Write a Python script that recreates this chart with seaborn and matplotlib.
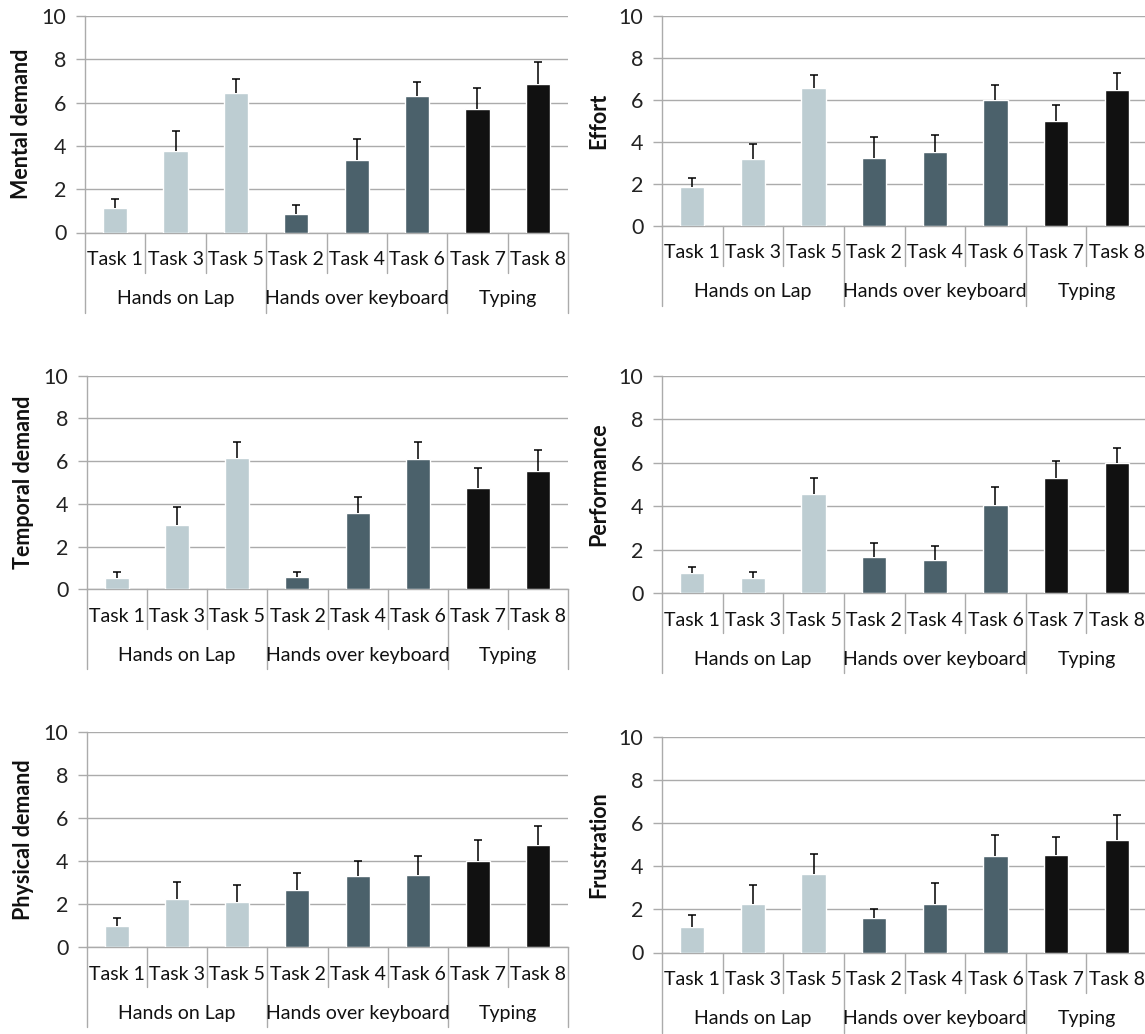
import numpy as np
import pandas as pd
import matplotlib
matplotlib.use("Agg")
import matplotlib.pyplot as plt
import seaborn as sns

sns.set_theme(style="white")
plt.rcParams["font.family"] = ["Lato", "DejaVu Sans"]

# Tasks in display order, grouped by hand posture
tasks = ["Task 1", "Task 3", "Task 5", "Task 2", "Task 4", "Task 6", "Task 7", "Task 8"]
groups = ["Hands on Lap", "Hands over keyboard", "Typing"]
group_sizes = [3, 3, 2]
group_colors = ["#BDCDD2", "#4B616B", "#111111"]

# NASA-TLX subscale means and upper error (per task, same order as `tasks`)
mental_mean = [1.11, 3.76, 6.43, 0.85, 3.37, 6.30, 5.70, 6.84]
mental_err = [0.42, 0.95, 0.64, 0.44, 0.93, 0.66, 0.96, 1.02]
effort_mean = [1.84, 3.17, 6.57, 3.22, 3.52, 6.00, 4.98, 6.48]
effort_err = [0.45, 0.75, 0.64, 1.02, 0.83, 0.70, 0.77, 0.79]
temporal_mean = [0.51, 3.01, 6.13, 0.56, 3.56, 6.08, 4.74, 5.52]
temporal_err = [0.32, 0.84, 0.75, 0.27, 0.76, 0.80, 0.94, 0.99]
performance_mean = [0.92, 0.69, 4.57, 1.66, 1.52, 4.05, 5.29, 5.98]
performance_err = [0.26, 0.26, 0.72, 0.63, 0.64, 0.83, 0.77, 0.72]
physical_mean = [0.97, 2.23, 2.10, 2.64, 3.31, 3.35, 3.99, 4.74]
physical_err = [0.37, 0.81, 0.79, 0.78, 0.68, 0.88, 0.96, 0.90]
frustration_mean = [1.17, 2.24, 3.62, 1.58, 2.27, 4.47, 4.54, 5.19]
frustration_err = [0.55, 0.91, 0.94, 0.43, 0.93, 0.99, 0.79, 1.19]

y_ticks = [0, 2, 4, 6, 8, 10]

W, H = 1145, 1034
fig = plt.figure(figsize=(W / 100, H / 100), dpi=100)

# panel boxes in pixels: left, right, top, bottom
panels = [
    ("Mental demand", mental_mean, mental_err, (85, 568, 16, 232.5)),
    ("Effort", effort_mean, effort_err, (662, 1147, 16, 226)),
    ("Temporal demand", temporal_mean, temporal_err, (87, 568, 375.7, 589.3)),
    ("Performance", performance_mean, performance_err, (662, 1147, 376, 593)),
    ("Physical demand", physical_mean, physical_err, (87, 568, 731.7, 947)),
    ("Frustration", frustration_mean, frustration_err, (662, 1147, 736.7, 952.5)),
]

grid_col = "#ABABAB"
px = 0.72  # points per pixel at 100 dpi

task_group = []
for g, n in zip(groups, group_sizes):
    task_group += [g] * n

for label, means, errs, (l, r, t, b) in panels:
    ax = fig.add_axes([l / W, 1 - b / H, (r - l) / W, (b - t) / H])
    h_px = b - t
    df = pd.DataFrame({"task": tasks, "score": means, "group": task_group})
    sns.barplot(data=df, x="task", y="score", hue="group", hue_order=groups,
                palette=group_colors, width=0.4, dodge=False, saturation=1,
                legend=False, ax=ax, zorder=3)
    xs = np.arange(len(tasks))
    # plus-only error bars: hide the cap that sits on the bar top
    _, caps, _ = ax.errorbar(xs, means, yerr=[np.zeros(len(errs)), errs],
                             fmt="none", ecolor="black", elinewidth=1.1,
                             capsize=3, capthick=1.1, zorder=4)
    caps[0].set_visible(False)

    ax.set_xlim(-0.5, len(tasks) - 0.5)
    ax.set_ylim(0, 10)
    ax.set_yticks(y_ticks)
    ax.set_axisbelow(True)
    ax.yaxis.grid(True, color=grid_col, linewidth=1.0)
    ax.xaxis.grid(False)
    for s in ["top", "right"]:
        ax.spines[s].set_visible(False)
    for s in ["left", "bottom"]:
        ax.spines[s].set_color(grid_col)
        ax.spines[s].set_linewidth(1.0)
    ax.tick_params(axis="y", length=9 * px, width=1.0, color=grid_col,
                   labelsize=15.5, pad=7, labelcolor="#222222", left=True)
    ax.set_xticks([])
    ax.set_xlabel("")
    ax.set_ylabel(label, fontsize=15.5, fontweight="bold", color="#111111")
    ax.yaxis.set_label_coords(-53 / (r - l), 0.5)

    trans = ax.get_xaxis_transform()
    # task labels
    for i, tname in enumerate(tasks):
        ax.annotate(tname, xy=(i, 0), xycoords=trans, xytext=(0, -27 * px),
                    textcoords="offset points", ha="center", va="center",
                    fontsize=14, color="#111111", annotation_clip=False)
    # separators between tasks
    short = -40 / h_px
    tall = -80 / h_px
    bounds = [-0.5]
    for n in group_sizes:
        bounds.append(bounds[-1] + n)
    for k in range(len(tasks) + 1):
        xb = k - 0.5
        y_end = tall if xb in bounds else short
        ax.plot([xb, xb], [0, y_end], transform=trans, color=grid_col,
                linewidth=1.0, clip_on=False, zorder=2)
    # group labels
    for g, lo, hi in zip(groups, bounds[:-1], bounds[1:]):
        ax.annotate(g, xy=((lo + hi) / 2, 0), xycoords=trans,
                    xytext=(0, -66 * px), textcoords="offset points",
                    ha="center", va="center", fontsize=14, color="#111111",
                    annotation_clip=False)

fig.savefig("out.png", dpi=100, facecolor="white")
